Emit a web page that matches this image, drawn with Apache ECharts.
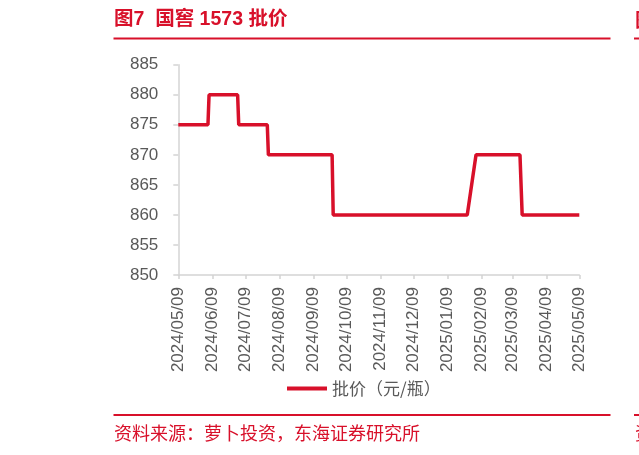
<!DOCTYPE html>
<html>
<head>
<meta charset="utf-8">
<script src="https://cdn.jsdelivr.net/npm/echarts@6.0.0/dist/echarts.min.js"></script>
<style>
html,body{margin:0;padding:0;background:#fff;}
#c{width:639px;height:455px;}
</style>
</head>
<body>
<div id="c"></div>
<script>
// ---- data ----
var titleText = '图7  国窖 1573 批价';
var sourceText = '资料来源：萝卜投资，东海证券研究所';
var seriesName = '批价（元/瓶）';
var dates = ['2024-05-09','2024-06-05','2024-06-06','2024-07-02','2024-07-03','2024-07-29','2024-07-30','2024-09-26','2024-09-27','2025-01-27','2025-02-04','2025-03-16','2025-03-18','2025-05-09'];
var prices = [875,875,880,880,875,875,870,870,860,860,870,870,860,860];
var tickLabels = ['2024/05/09','2024/06/09','2024/07/09','2024/08/09','2024/09/09','2024/10/09','2024/11/09','2024/12/09','2025/01/09','2025/02/09','2025/03/09','2025/04/09','2025/05/09'];
var yTicks = [850,855,860,865,870,875,880,885];

function toTs(s){ var p = s.split(/[-\/]/); return new Date(+p[0], +p[1]-1, +p[2]).getTime(); }
function pad(n){ return (n<10?'0':'')+n; }
function fmt(v){ var d=new Date(v); return d.getFullYear()+'/'+pad(d.getMonth()+1)+'/'+pad(d.getDate()); }

var RED = '#d8102a';
var GREY = '#595959';
var AXIS = '#d4d4d4';
var tickVals = tickLabels.map(toTs);

var chart = echarts.init(document.getElementById('c'));
chart.setOption({
  animation: false,
  textStyle: { fontFamily: 'Liberation Sans, Arial, Noto Sans CJK SC, sans-serif' },
  grid: { left: 178.3, right: 59.7, top: 64.7, bottom: 180, containLabel: false },
  legend: {
    left: 282, top: 375,
    itemWidth: 40, itemHeight: 4,
    icon: 'rect',
    textStyle: { color: GREY, fontSize: 17, fontFamily: 'Noto Sans CJK SC, sans-serif' },
    data: [seriesName]
  },
  xAxis: {
    type: 'value',
    min: tickVals[0],
    max: tickVals[tickVals.length-1],
    axisLine: { lineStyle: { color: AXIS, width: 1.5 } },
    axisTick: { show: true, length: 4, lineStyle: { color: AXIS, width: 1.5 }, customValues: tickVals },
    axisLabel: { rotate: 90, margin: 12, fontSize: 17, color: GREY, customValues: tickVals, formatter: function(v){ return fmt(v); } },
    splitLine: { show: false }
  },
  yAxis: {
    type: 'value',
    min: yTicks[0], max: yTicks[yTicks.length-1], interval: 5,
    axisLine: { show: true, lineStyle: { color: AXIS, width: 1.5 } },
    axisTick: { show: true, length: 5, lineStyle: { color: AXIS, width: 1.5 } },
    axisLabel: { fontSize: 17, color: GREY, margin: 20 },
    splitLine: { show: false }
  },
  series: [{
    name: seriesName,
    type: 'line',
    data: dates.map(function(d,i){ return [toTs(d), prices[i]]; }),
    showSymbol: false,
    symbol: 'none',
    lineStyle: { color: RED, width: 3.5 },
    itemStyle: { color: RED }
  }],
  graphic: [
    { type: 'text', left: 114, top: 10, style: { text: titleText, fill: RED, font: 'bold 19.5px "Liberation Sans", "Noto Sans CJK SC", sans-serif' } },
    { type: 'line', shape: { x1: 113.5, y1: 38.5, x2: 610.5, y2: 38.5 }, style: { stroke: RED, lineWidth: 2 } },
    { type: 'text', left: 635, top: 10, style: { text: '图', fill: RED, font: 'bold 19.5px "Noto Sans CJK SC", sans-serif' } },
    { type: 'line', shape: { x1: 634, y1: 38.5, x2: 700, y2: 38.5 }, style: { stroke: RED, lineWidth: 2 } },
    { type: 'line', shape: { x1: 113.5, y1: 415, x2: 610.5, y2: 415 }, style: { stroke: RED, lineWidth: 2 } },
    { type: 'line', shape: { x1: 634, y1: 415, x2: 700, y2: 415 }, style: { stroke: RED, lineWidth: 2 } },
    { type: 'text', left: 114, top: 424, style: { text: sourceText, fill: RED, font: '18px "Noto Sans CJK SC", sans-serif' } },
    { type: 'text', left: 635, top: 424, style: { text: '资', fill: RED, font: '18px "Noto Sans CJK SC", sans-serif' } }
  ]
});
</script>
</body>
</html>
